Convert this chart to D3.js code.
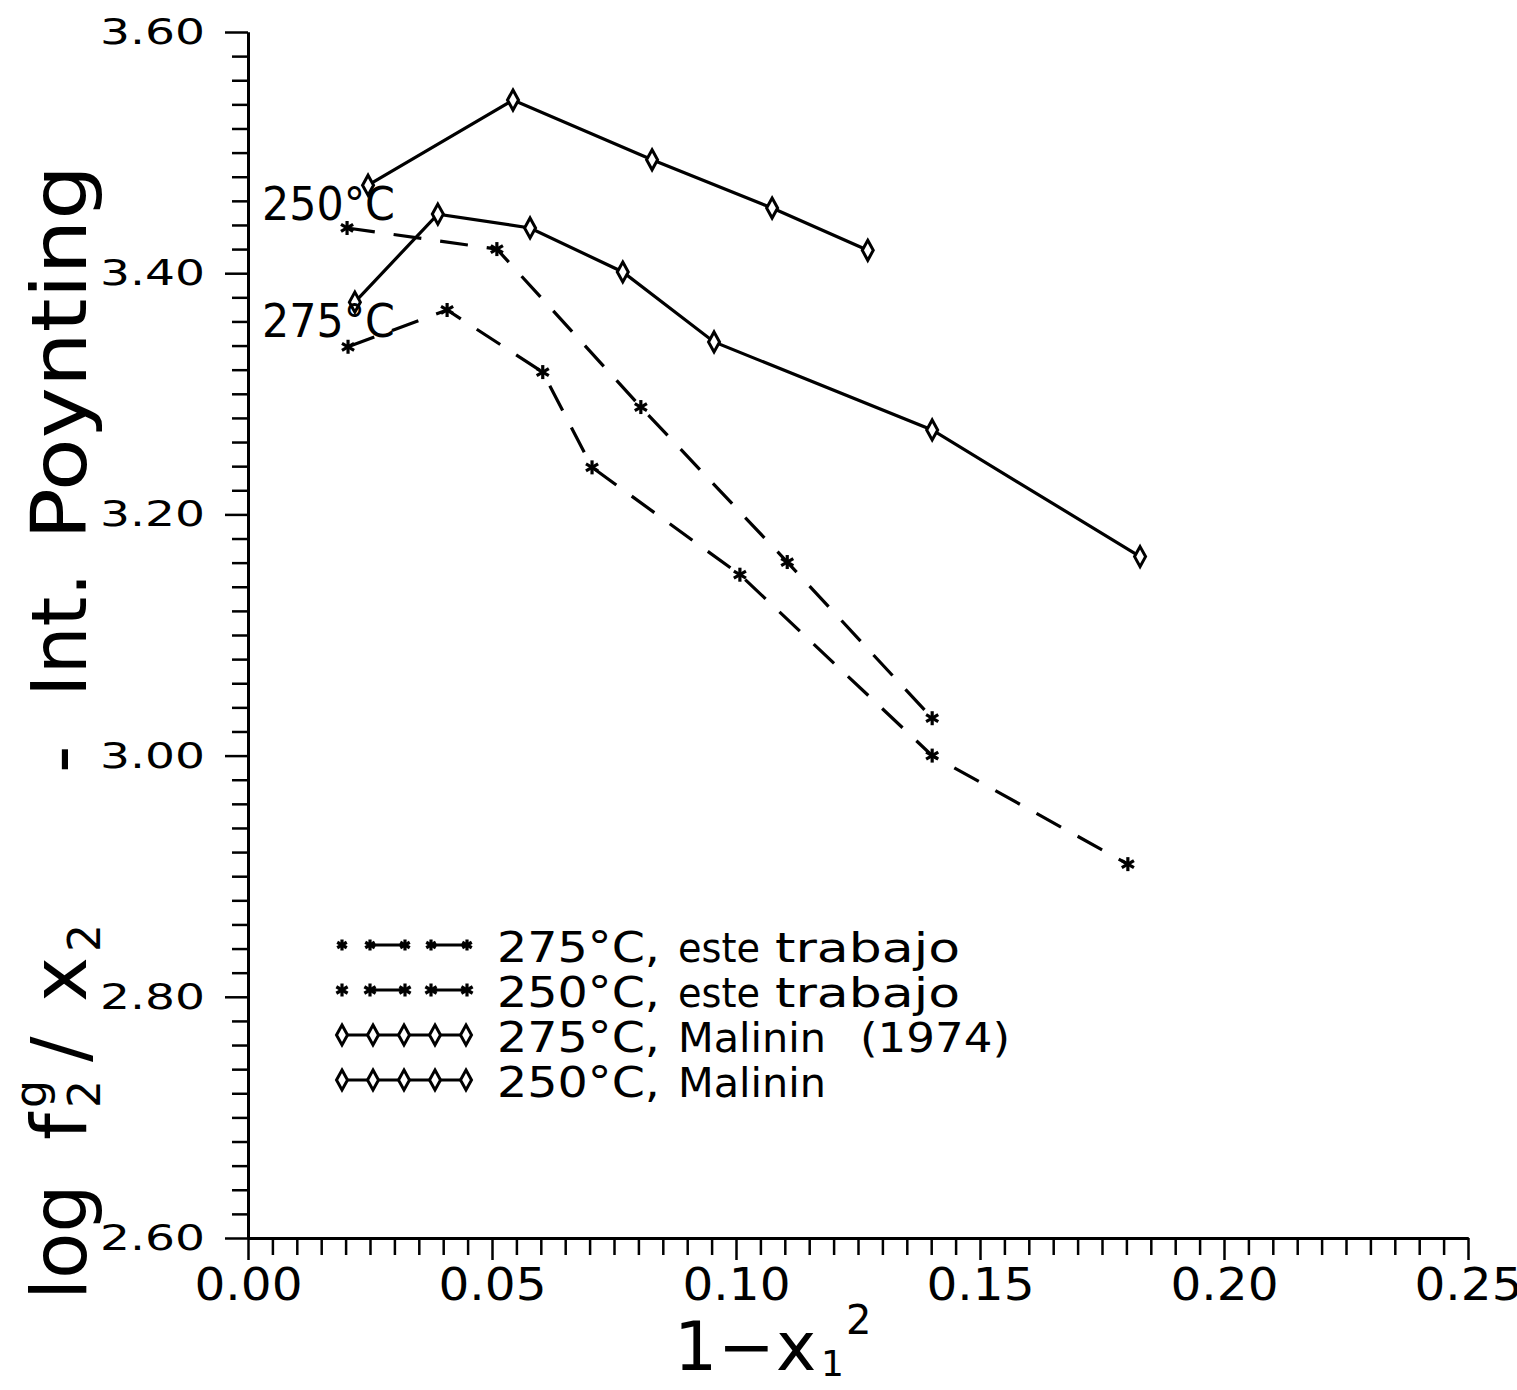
<!DOCTYPE html>
<html><head><meta charset="utf-8">
<script src="https://cdn.jsdelivr.net/npm/d3@7"></script>
<style>
body{margin:0;background:#fff}
text{font-family:"DejaVu Sans",sans-serif;fill:#000}
</style>
</head><body>
<svg id="c" width="1517" height="1390"></svg>
<script>
// ---- data ----
const xTicks=[0,0.05,0.10,0.15,0.20,0.25];
const yTicks=[2.6,2.8,3.0,3.2,3.4,3.6];
const x275trabajo=[0.0205,0.0408,0.0604,0.0705,0.1008,0.1402,0.1803];
const y275trabajo=[3.339,3.3695,3.318,3.239,3.150,3.000,2.910];
const x250trabajo=[0.0203,0.0510,0.0805,0.1105,0.1402];
const y250trabajo=[3.4375,3.420,3.289,3.1605,3.031];
const x275malinin=[0.0219,0.0389,0.0578,0.0768,0.0955,0.1402,0.1828];
const y275malinin=[3.376,3.449,3.4375,3.401,3.343,3.270,3.165];
const x250malinin=[0.0246,0.0543,0.0828,0.1074,0.1270];
const y250malinin=[3.473,3.5436,3.494,3.454,3.419];
const legendTemps=["275","250","275","250"];
const legendWord1=["este","este","Malinin","Malinin"];
const legendWord2=["trabajo","trabajo","(1974)",""];
const curveLabelTemps=["250","275"];

// ---- layout ----
const svg=d3.select("#c");
svg.append("rect").attr("width",1517).attr("height",1390).attr("fill","#fff");
const x=d3.scaleLinear().domain([0,0.25]).range([248,1468]);
const y=d3.scaleLinear().domain([2.6,3.6]).range([1238,32]);

const yMinor=d3.range(2.6,3.6001,0.02).filter(v=>!yTicks.some(t=>Math.abs(t-v)<1e-6));
const xMinor=d3.range(0,0.25001,0.005).filter(v=>!xTicks.some(t=>Math.abs(t-v)<1e-6));

svg.append("g").attr("transform","translate(248,0)")
  .call(d3.axisLeft(y).tickValues(yMinor).tickSize(16).tickSizeOuter(0).tickFormat(""));
svg.append("g").attr("transform","translate(0,1238)")
  .call(d3.axisBottom(x).tickValues(xMinor).tickSize(17).tickSizeOuter(0).tickFormat(""));

const gy=svg.append("g").attr("transform","translate(248,0)")
  .call(d3.axisLeft(y).tickValues(yTicks).tickSize(23).tickPadding(20).tickSizeOuter(0).tickFormat(d3.format(".2f")));
gy.selectAll(".tick text").style("font-size","36px").style("font-family","DejaVu Sans")
  .attr("textLength",105).attr("lengthAdjust","spacingAndGlyphs");

const gx=svg.append("g").attr("transform","translate(0,1238)")
  .call(d3.axisBottom(x).tickValues(xTicks).tickSize(22).tickPadding(9).tickSizeOuter(0).tickFormat(d3.format(".2f")));
gx.selectAll(".tick text").style("font-size","44px").style("font-family","DejaVu Sans")
  .attr("textLength",108).attr("lengthAdjust","spacingAndGlyphs");

svg.selectAll(".domain").attr("stroke","#000").attr("stroke-width",3);
svg.selectAll(".tick line").attr("stroke","#000").attr("stroke-width",2.5);

// ---- markers ----
function diamond(g,cx,cy,w,h){
  g.append("path").attr("d",`M${cx},${cy-h} L${cx+w},${cy} L${cx},${cy+h} L${cx-w},${cy} Z`)
   .attr("fill","#fff").attr("stroke","#000").attr("stroke-width",3);
}
function star(g,cx,cy,r){
  [90,30,150].forEach(a=>{
    const dx=r*Math.cos(a*Math.PI/180), dy=r*Math.sin(a*Math.PI/180);
    g.append("line").attr("x1",cx-dx).attr("y1",cy-dy).attr("x2",cx+dx).attr("y2",cy+dy)
     .attr("stroke","#000").attr("stroke-width",3.2);
  });
}

const line=d3.line().x(d=>x(d[0])).y(d=>y(d[1]));
const plot=svg.append("g");
function series(xs,ys,dashed,marker){
  const pts=xs.map((v,i)=>[v,ys[i]]);
  plot.append("path").attr("d",line(pts)).attr("fill","none").attr("stroke","#000")
    .attr("stroke-width",3.2).attr("stroke-dasharray",dashed?"28,19":null);
  pts.forEach(p=>{
    if(marker==="d") diamond(plot,x(p[0]),y(p[1]),5.5,10);
    else star(plot,x(p[0]),y(p[1]),7);
  });
}
series(x250malinin,y250malinin,false,"d");
series(x275malinin,y275malinin,false,"d");
series(x250trabajo,y250trabajo,true,"s");
series(x275trabajo,y275trabajo,true,"s");

// ---- curve labels ----
const clPos=[[262,220],[262,337]];
curveLabelTemps.forEach((t,i)=>{
  svg.append("text").attr("x",clPos[i][0]).attr("y",clPos[i][1]).style("font-size","46px")
    .attr("textLength",133).attr("lengthAdjust","spacingAndGlyphs")
    .text(t+"\u00B0C");
});

// ---- legend ----
const lg=svg.append("g");
const rowY=[945,990,1035,1080];
legendTemps.forEach((t,i)=>{
  const cy=rowY[i];
  if(i<2){
    const r=i===0?5.5:6.5;
    star(lg,342,cy,r);
    [[370,405],[431,467]].forEach(s=>{
      lg.append("line").attr("x1",s[0]).attr("x2",s[1]).attr("y1",cy).attr("y2",cy)
        .attr("stroke","#000").attr("stroke-width",3.2);
      star(lg,s[0],cy,r); star(lg,s[1],cy,r);
    });
  } else {
    lg.append("line").attr("x1",342).attr("x2",466).attr("y1",cy).attr("y2",cy)
      .attr("stroke","#000").attr("stroke-width",3.2);
    [342,373,404,435,466].forEach(px=>diamond(lg,px,cy,5.5,10));
  }
  const base=cy+17;
  lg.append("text").attr("x",497).attr("y",base).style("font-size","43px")
    .attr("textLength",163).attr("lengthAdjust","spacingAndGlyphs")
    .text(t+"\u00B0C,");
  lg.append("text").attr("x",678).attr("y",base).style("font-size","40px")
    .attr("textLength",legendWord1[i]==="este"?82:148).attr("lengthAdjust","spacingAndGlyphs")
    .text(legendWord1[i]);
  if(legendWord2[i]){
    const isT=legendWord2[i]==="trabajo";
    lg.append("text").attr("x",isT?775:860).attr("y",base).style("font-size","41px")
      .attr("textLength",isT?185:150).attr("lengthAdjust","spacingAndGlyphs")
      .text(legendWord2[i]);
  }
});

// ---- axis titles ----
const xt=svg.append("text").attr("y",1370).style("font-size","68px");
xt.append("tspan").attr("x",674).text("1");
xt.append("tspan").attr("x",718).text("\u2212");
xt.append("tspan").attr("x",776).text("x");
xt.append("tspan").attr("x",821).attr("dy",6).style("font-size","36px").text("1");
xt.append("tspan").attr("x",846).attr("dy",-42).style("font-size","40px").text("2");

const yt=svg.append("text").attr("transform","translate(86,0) rotate(-90)").style("font-size","76px");
yt.append("tspan").attr("x",-1300).text("log");
yt.append("tspan").attr("x",-1140).text("f");
yt.append("tspan").attr("x",-1108).attr("dy",14).style("font-size","44px").text("2");
yt.append("tspan").attr("x",-1108).attr("dy",-54).style("font-size","44px").text("g");
yt.append("tspan").attr("x",-1062).attr("dy",40).text("/");
yt.append("tspan").attr("x",-1002).text("x");
yt.append("tspan").attr("x",-952).attr("dy",14).style("font-size","44px").text("2");
yt.append("tspan").attr("x",-773).attr("dy",-14).text("-");
yt.append("tspan").attr("x",-697).text("Int.");
yt.append("tspan").attr("x",-540).attr("textLength",375).attr("lengthAdjust","spacingAndGlyphs").text("Poynting");
</script>
</body></html>
